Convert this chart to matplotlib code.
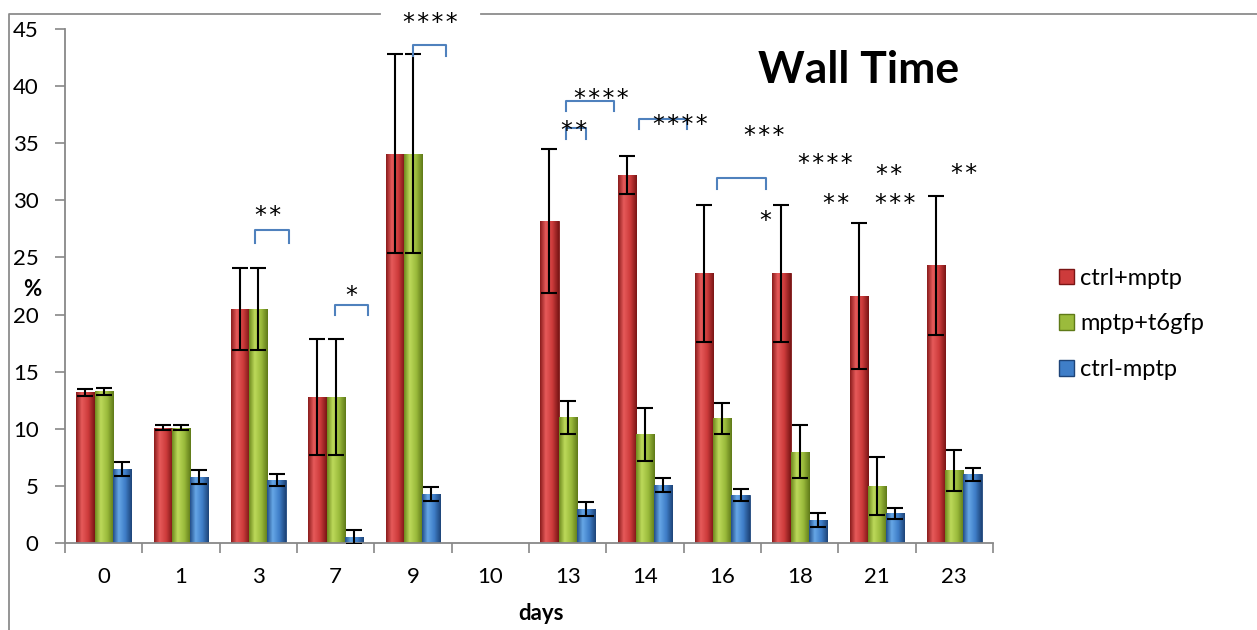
import matplotlib
matplotlib.use('Agg')
import matplotlib.pyplot as plt
import numpy as np
from matplotlib.colors import LinearSegmentedColormap
from matplotlib.patches import Rectangle
from matplotlib.lines import Line2D

plt.rcParams['font.family'] = ['Lato', 'DejaVu Sans']

# dados
days = ['0', '1', '3', '7', '9', '10', '13', '14', '16', '18', '21', '23']
series = ['ctrl+mptp', 'mptp+t6gfp', 'ctrl-mptp']
ctrl_mptp = [13.2, 10.1, 20.5, 12.8, 34.1, np.nan, 28.2, 32.2, 23.6, 23.6, 21.6, 24.3]
ctrl_mptp_err = [0.3, 0.25, 3.6, 5.1, 8.7, np.nan, 6.3, 1.65, 6.0, 6.0, 6.4, 6.1]
mptp_t6gfp = [13.3, 10.1, 20.5, 12.8, 34.1, np.nan, 11.0, 9.5, 10.9, 8.0, 5.0, 6.35]
mptp_t6gfp_err = [0.3, 0.25, 3.6, 5.1, 8.7, np.nan, 1.45, 2.3, 1.35, 2.3, 2.55, 1.8]
ctrl_minus = [6.5, 5.8, 5.5, 0.5, 4.3, np.nan, 3.0, 5.05, 4.2, 2.0, 2.6, 6.0]
ctrl_minus_err = [0.6, 0.6, 0.5, 0.6, 0.6, np.nan, 0.6, 0.6, 0.55, 0.6, 0.5, 0.55]

# anotacoes de significancia: (x, y, texto)
stars = [(2.12, 29.2, '**'), (3.2, 22.2, '*'), (4.22, 46.1, '****'),
         (6.08, 36.7, '**'), (6.43, 39.5, '****'), (7.46, 37.2, '****'),
         (8.54, 36.2, '***'), (8.56, 28.8, '*'), (9.33, 33.8, '****'),
         (9.47, 30.3, '**'), (10.15, 32.8, '**'), (10.23, 30.3, '***'),
         (11.12, 32.9, '**')]
# colchetes: (x0, x1, topo, base)
brackets = [(1.96, 2.40, 27.4, 26.3), (2.99, 3.42, 20.85, 19.95),
            (4.0, 4.43, 43.6, 42.6), (5.98, 6.24, 36.3, 35.4),
            (5.98, 6.60, 38.7, 37.8), (6.92, 7.54, 37.1, 36.25),
            (7.93, 8.56, 31.95, 31.0)]

cores = [('#8a1c1c', '#e65a5a', '#cd3b3b', '#7a1515'),
         ('#6e8a1e', '#bcd95a', '#9bbb3c', '#5f7a18'),
         ('#234f8a', '#66a6e6', '#3f7ec8', '#1e4478')]

fig = plt.figure(figsize=(12.57, 6.30), dpi=100)
ax = fig.add_axes([65/1257, 1-543/630, 928/1257, 514/630])

x = np.arange(len(days))
w = 0.237
valores = [(ctrl_mptp, ctrl_mptp_err), (mptp_t6gfp, mptp_t6gfp_err), (ctrl_minus, ctrl_minus_err)]
grad = np.linspace(0, 1, 64).reshape(1, -1)
handles = []
for k, (vals, errs) in enumerate(valores):
    vals = np.array(vals)
    errs = np.array(errs)
    ok = ~np.isnan(vals)
    xs = x[ok] + (k-1)*w
    c0, c1, c2, c3 = cores[k]
    cm = LinearSegmentedColormap.from_list('g%d' % k, [(0, c0), (0.3, c1), (0.65, c2), (1, c3)])
    bars = ax.bar(xs, vals[ok], w, color=c2, edgecolor=c3, linewidth=0.6, zorder=2)
    for b in bars:
        im = ax.imshow(grad, extent=[b.get_x(), b.get_x()+b.get_width(), 0, b.get_height()],
                       aspect='auto', cmap=cm, zorder=2.5)
        im.set_clip_path(b)
    ax.errorbar(xs, vals[ok], yerr=errs[ok], fmt='none', ecolor='black',
                elinewidth=1.5, capsize=6, capthick=1.5, zorder=4)
    handles.append(Rectangle((0, 0), 1, 1, facecolor=c2, edgecolor=c3))

for (x0, x1, top, base) in brackets:
    ax.plot([x0, x0, x1, x1], [base, top, top, base], color='#4f81bd', lw=1.5,
            zorder=5, clip_on=False, solid_joinstyle='round')
# asterisco fica alto na caixa do texto, por isso o deslocamento
for (sx, sy, s) in stars:
    ax.annotate('\u200a'.join(s), (sx, sy), xytext=(0, -10), textcoords='offset points',
                fontsize=17, ha='center', va='baseline', family='DejaVu Sans',
                zorder=6, annotation_clip=False)

ax.set_xlim(-0.5, 11.5)
ax.set_ylim(0, 45)
ax.set_yticks(np.arange(0, 46, 5))
ax.set_xticks(x)
ax.set_xticklabels(days)
ax.set_xticks(np.arange(-0.5, 12, 1), minor=True)
ax.tick_params(axis='x', which='major', length=0, pad=17, labelsize=16)
ax.tick_params(axis='x', which='minor', length=7, width=1.2, color='#888888', direction='out')
ax.tick_params(axis='y', length=7, width=1.2, color='#888888', direction='out', pad=12, labelsize=16)
for s in ['top', 'right']:
    ax.spines[s].set_visible(False)
for s in ['left', 'bottom']:
    ax.spines[s].set_color('#888888')
    ax.spines[s].set_linewidth(1.3)

fig.text(859/1257, 1-70/630, 'Wall Time', fontsize=32, weight='bold', ha='center', va='center')
fig.text(32/1257, 1-290/630, '%', fontsize=16, weight='bold', ha='center', va='center')
fig.text(541/1257, 1-614/630, 'days', fontsize=16, weight='bold', ha='center', va='center')

leg = fig.legend(handles, series, loc='center left', bbox_to_anchor=(1059/1257, 1-324/630),
                 frameon=False, fontsize=17, handlelength=0.65, handleheight=0.65,
                 handletextpad=0.25, labelspacing=1.05, borderpad=0, borderaxespad=0)

# moldura da area do grafico
fig.add_artist(Line2D([9/1257, 9/1257, 380/1257], [0, 1-14/630, 1-14/630], color='#8c8c8c', lw=1.3))
fig.add_artist(Line2D([481/1257, 1], [1-14/630, 1-14/630], color='#8c8c8c', lw=1.3))

plt.savefig('out.png', dpi=100)
